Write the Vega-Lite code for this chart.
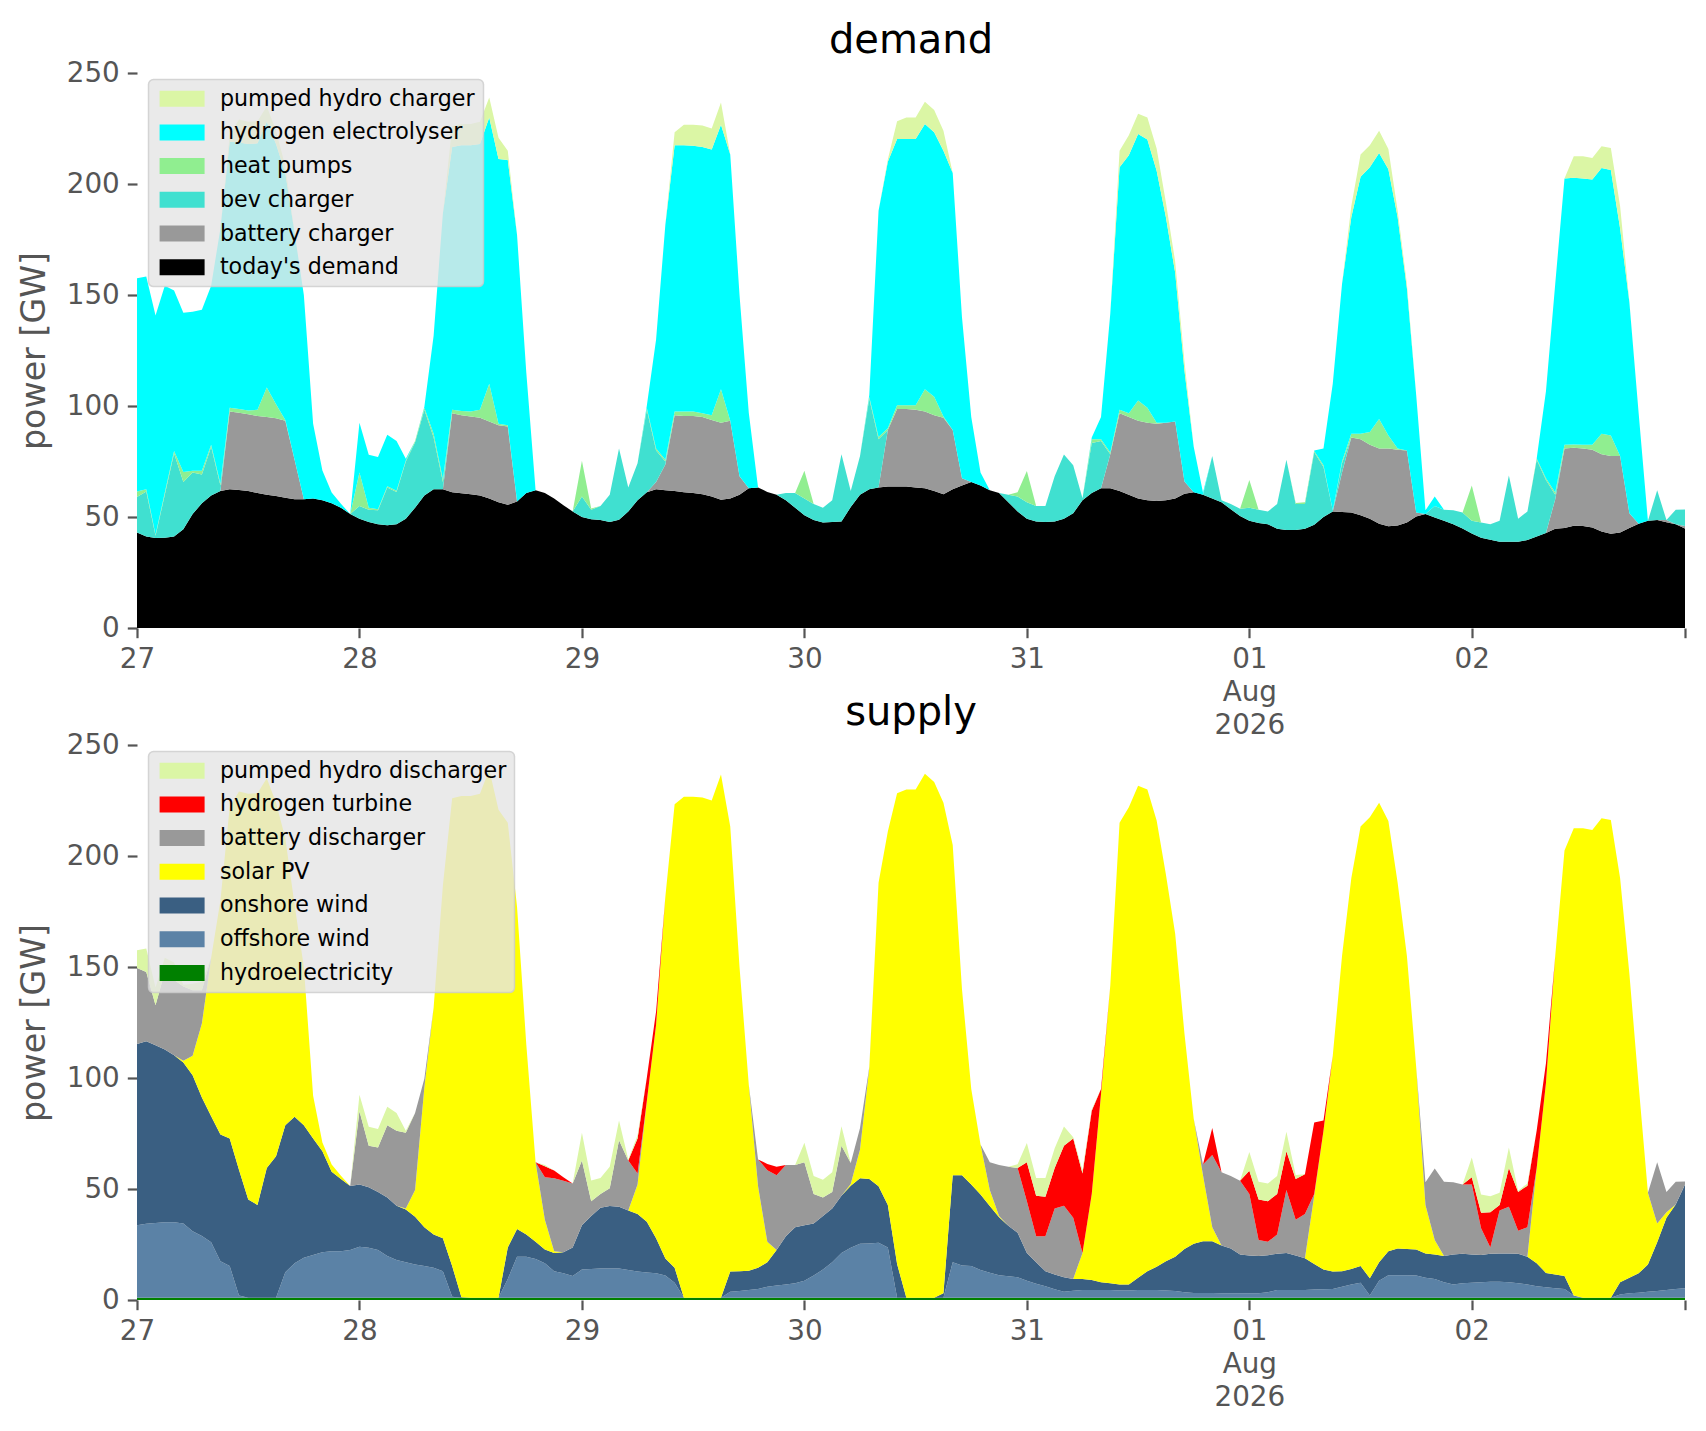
{
"$schema": "https://vega.github.io/schema/vega-lite/v6.json",
"background": "white",
"padding": {"left": 17, "top": 21, "right": 10, "bottom": 10},
"config": {
 "view": {"stroke": null},
 "font": "DejaVu Sans",
 "axis": {"grid": false, "domain": false, "labelFont": "DejaVu Sans", "labelFontSize": 27.8, "labelColor": "#555555", "tickColor": "#555555", "tickSize": 9.7, "tickWidth": 2.2, "labelPadding": 8, "titleFont": "DejaVu Sans", "titleFontSize": 33.3, "titleFontWeight": "normal", "titleColor": "#555555"},
 "title": {"font": "DejaVu Sans", "fontSize": 40, "fontWeight": "normal", "color": "#000000", "anchor": "middle", "offset": -2, "baseline": "alphabetic"},
 "legend": {"orient": "none", "legendX": 11.5, "legendY": 6.6, "fillColor": "rgba(229,229,229,0.8)", "strokeColor": "rgba(204,204,204,0.8)", "strokeWidth": 1.5, "cornerRadius": 5, "padding": 8, "labelFont": "DejaVu Sans", "labelFontSize": 22.2, "labelColor": "#000000", "labelOffset": 41.2, "symbolType": "M-1,-1L4.625,-1L4.625,1L-1,1Z", "symbolSize": 256, "symbolStrokeWidth": 0, "symbolOpacity": 1, "rowPadding": 10.7, "labelLimit": 0}
},
"datasets": {
"keys": [
 {"k":"dm","n":"today's demand","o":0},{"k":"bc","n":"battery charger","o":1},{"k":"ev","n":"bev charger","o":2},{"k":"hp","n":"heat pumps","o":3},{"k":"el","n":"hydrogen electrolyser","o":4},{"k":"pc","n":"pumped hydro charger","o":5},
 {"k":"hy","n":"hydroelectricity","o":0},{"k":"of","n":"offshore wind","o":1},{"k":"on","n":"onshore wind","o":2},{"k":"pv","n":"solar PV","o":3},{"k":"bd","n":"battery discharger","o":4},{"k":"ht","n":"hydrogen turbine","o":5},{"k":"pd","n":"pumped hydro discharger","o":6}
],
"d": [
{"t":"2026-07-27T00:00Z","dm":43,"bc":0,"ev":16,"hp":2.5,"el":96,"pc":0,"hy":1,"of":32.7,"on":81.6,"pv":0,"bd":34.2,"ht":0,"pd":8},
{"t":"2026-07-27T01:00Z","dm":41.2,"bc":0,"ev":20.3,"hp":1,"el":95.8,"pc":0,"hy":1,"of":33.3,"on":82.2,"pv":0,"bd":31.3,"ht":0,"pd":10.5},
{"t":"2026-07-27T02:00Z","dm":40.5,"bc":0,"ev":1,"hp":0.5,"el":98.8,"pc":0,"hy":1,"of":33.7,"on":80.1,"pv":0,"bd":18,"ht":0,"pd":8},
{"t":"2026-07-27T03:00Z","dm":40.7,"bc":0,"ev":19.3,"hp":1,"el":93.2,"pc":0,"hy":1,"of":34,"on":77.8,"pv":0,"bd":35,"ht":0,"pd":6.4},
{"t":"2026-07-27T04:00Z","dm":41.2,"bc":0,"ev":37.5,"hp":1,"el":72.3,"pc":0,"hy":1,"of":34,"on":75.3,"pv":0,"bd":33.9,"ht":0,"pd":7.8},
{"t":"2026-07-27T05:00Z","dm":44.5,"bc":0,"ev":21.3,"hp":4.5,"el":71.7,"pc":0,"hy":1,"of":33.5,"on":72.5,"pv":0.8,"bd":33.4,"ht":0,"pd":0.8},
{"t":"2026-07-27T06:00Z","dm":51.3,"bc":0,"ev":18.7,"hp":0.8,"el":71.7,"pc":0,"hy":1,"of":30,"on":70.2,"pv":8.8,"bd":29.5,"ht":0,"pd":3},
{"t":"2026-07-27T07:00Z","dm":56.2,"bc":0,"ev":13,"hp":1.6,"el":72.5,"pc":0,"hy":1,"of":27.8,"on":62.4,"pv":33.3,"bd":15,"ht":0,"pd":3.8},
{"t":"2026-07-27T08:00Z","dm":59.7,"bc":0,"ev":22,"hp":0.8,"el":71.7,"pc":0,"hy":1,"of":25,"on":56.8,"pv":71.4,"bd":0,"ht":0,"pd":0},
{"t":"2026-07-27T09:00Z","dm":61.7,"bc":0,"ev":2.5,"hp":0.8,"el":115,"pc":0,"hy":1,"of":16.5,"on":57,"pv":105.5,"bd":0,"ht":0,"pd":0},
{"t":"2026-07-27T10:00Z","dm":62.5,"bc":35,"ev":0,"hp":1.7,"el":119.8,"pc":3,"hy":1,"of":14.3,"on":57.5,"pv":149.2,"bd":0,"ht":0,"pd":0},
{"t":"2026-07-27T11:00Z","dm":62.2,"bc":34.8,"ev":0,"hp":1.7,"el":120,"pc":10.3,"hy":1,"of":1,"on":56.7,"pv":170.3,"bd":0,"ht":0,"pd":0},
{"t":"2026-07-27T12:00Z","dm":61.7,"bc":34.6,"ev":0,"hp":1.7,"el":120,"pc":10,"hy":1,"of":0,"on":44.3,"pv":182.7,"bd":0,"ht":0,"pd":0},
{"t":"2026-07-27T13:00Z","dm":60.8,"bc":34.7,"ev":0,"hp":2.8,"el":120,"pc":10,"hy":1,"of":0,"on":41.8,"pv":185.5,"bd":0,"ht":0,"pd":0},
{"t":"2026-07-27T14:00Z","dm":60,"bc":35,"ev":0,"hp":13.3,"el":119.7,"pc":7,"hy":1,"of":0,"on":58.5,"pv":175.5,"bd":0,"ht":0,"pd":0},
{"t":"2026-07-27T15:00Z","dm":59.5,"bc":35,"ev":0,"hp":6.3,"el":117.2,"pc":6,"hy":1,"of":0,"on":63.8,"pv":159.2,"bd":0,"ht":0,"pd":0},
{"t":"2026-07-27T16:00Z","dm":58.7,"bc":34.6,"ev":0,"hp":0.4,"el":111.3,"pc":3,"hy":1,"of":11.5,"on":66.2,"pv":129.3,"bd":0,"ht":0,"pd":0},
{"t":"2026-07-27T17:00Z","dm":58,"bc":17.8,"ev":0,"hp":0,"el":102.2,"pc":0,"hy":1,"of":15.5,"on":66,"pv":95.5,"bd":0,"ht":0,"pd":0},
{"t":"2026-07-27T18:00Z","dm":58,"bc":0,"ev":0,"hp":0,"el":92,"pc":0,"hy":1,"of":18,"on":59.7,"pv":71.3,"bd":0,"ht":0,"pd":0},
{"t":"2026-07-27T19:00Z","dm":58.3,"bc":0,"ev":0,"hp":0,"el":33.7,"pc":0,"hy":1,"of":19.3,"on":52.5,"pv":19.2,"bd":0,"ht":0,"pd":0},
{"t":"2026-07-27T20:00Z","dm":57.5,"bc":0,"ev":0,"hp":0,"el":13.5,"pc":0,"hy":1,"of":20.5,"on":45.5,"pv":4,"bd":0,"ht":0,"pd":0},
{"t":"2026-07-27T21:00Z","dm":56.2,"bc":0,"ev":0,"hp":0,"el":4.8,"pc":0,"hy":1,"of":21,"on":35.8,"pv":3.2,"bd":0,"ht":0,"pd":0},
{"t":"2026-07-27T22:00Z","dm":54.2,"bc":0,"ev":0,"hp":0,"el":1.8,"pc":0,"hy":1,"of":21,"on":32.5,"pv":1.5,"bd":0,"ht":0,"pd":0},
{"t":"2026-07-27T23:00Z","dm":51.3,"bc":0,"ev":0,"hp":0,"el":0,"pc":0,"hy":1,"of":21.5,"on":28.8,"pv":0,"bd":0,"ht":0,"pd":0},
{"t":"2026-07-28T00:00Z","dm":49.2,"bc":0,"ev":5.8,"hp":15,"el":22.5,"pc":0,"hy":1,"of":23,"on":28,"pv":0,"bd":33,"ht":0,"pd":7.5},
{"t":"2026-07-28T01:00Z","dm":47.8,"bc":0,"ev":5.5,"hp":0.9,"el":23.8,"pc":0,"hy":1,"of":22.5,"on":27.3,"pv":0,"bd":18.7,"ht":0,"pd":8.5},
{"t":"2026-07-28T02:00Z","dm":46.7,"bc":0,"ev":6.3,"hp":0.5,"el":23.5,"pc":0,"hy":1,"of":21.5,"on":26.2,"pv":0,"bd":20,"ht":0,"pd":8.3},
{"t":"2026-07-28T03:00Z","dm":46.3,"bc":0,"ev":17,"hp":0.5,"el":23.2,"pc":0,"hy":1,"of":18.8,"on":26.4,"pv":0,"bd":32.5,"ht":0,"pd":8.3},
{"t":"2026-07-28T04:00Z","dm":46.7,"bc":0,"ev":14.6,"hp":0.5,"el":22.4,"pc":0,"hy":1,"of":17,"on":24.5,"pv":0,"bd":33.7,"ht":0,"pd":8},
{"t":"2026-07-28T05:00Z","dm":49.2,"bc":0,"ev":25.8,"hp":0.5,"el":0.7,"pc":0,"hy":1,"of":16,"on":23.8,"pv":0.4,"bd":34.1,"ht":0,"pd":0.9},
{"t":"2026-07-28T06:00Z","dm":54.2,"bc":0,"ev":29.5,"hp":0.5,"el":0,"pc":0,"hy":1,"of":15,"on":21.5,"pv":12,"bd":34.7,"ht":0,"pd":0},
{"t":"2026-07-28T07:00Z","dm":59.7,"bc":0,"ev":38.6,"hp":0.9,"el":0.5,"pc":0,"hy":1,"of":14.3,"on":17.5,"pv":62.9,"bd":4,"ht":0,"pd":0},
{"t":"2026-07-28T08:00Z","dm":62.5,"bc":0,"ev":23.3,"hp":1.7,"el":44.2,"pc":0,"hy":1,"of":13.5,"on":15,"pv":102.2,"bd":0,"ht":0,"pd":0},
{"t":"2026-07-28T09:00Z","dm":62.5,"bc":0,"ev":3.3,"hp":1.2,"el":119.7,"pc":0,"hy":1,"of":12,"on":14.8,"pv":158.9,"bd":0,"ht":0,"pd":0},
{"t":"2026-07-28T10:00Z","dm":61.2,"bc":35.5,"ev":0,"hp":1.6,"el":118.4,"pc":9.3,"hy":1,"of":0.5,"on":13.8,"pv":210.7,"bd":0,"ht":0,"pd":0},
{"t":"2026-07-28T11:00Z","dm":60.7,"bc":35.1,"ev":0,"hp":2,"el":119.7,"pc":9.5,"hy":1,"of":0,"on":0.2,"pv":225.8,"bd":0,"ht":0,"pd":0},
{"t":"2026-07-28T12:00Z","dm":60.3,"bc":35,"ev":0,"hp":2.2,"el":120,"pc":9.5,"hy":1,"of":0,"on":0,"pv":226,"bd":0,"ht":0,"pd":0},
{"t":"2026-07-28T13:00Z","dm":59.7,"bc":35,"ev":0,"hp":3.6,"el":119.7,"pc":10,"hy":1,"of":0,"on":0,"pv":227,"bd":0,"ht":0,"pd":0},
{"t":"2026-07-28T14:00Z","dm":58.3,"bc":34.7,"ev":0,"hp":17,"el":120,"pc":9,"hy":1,"of":0,"on":0,"pv":238,"bd":0,"ht":0,"pd":0},
{"t":"2026-07-28T15:00Z","dm":56.7,"bc":34.6,"ev":0,"hp":0.7,"el":119.3,"pc":9.5,"hy":1,"of":0,"on":0,"pv":219.8,"bd":0,"ht":0,"pd":0},
{"t":"2026-07-28T16:00Z","dm":55.5,"bc":35.3,"ev":0,"hp":0.5,"el":119.5,"pc":4.2,"hy":1,"of":8.5,"on":14.2,"pv":191.3,"bd":0,"ht":0,"pd":0},
{"t":"2026-07-28T17:00Z","dm":57,"bc":0,"ev":0,"hp":0,"el":120,"pc":0,"hy":1,"of":18.5,"on":12.5,"pv":145,"bd":0,"ht":0,"pd":0},
{"t":"2026-07-28T18:00Z","dm":60.8,"bc":0,"ev":0,"hp":0,"el":54.2,"pc":0,"hy":1,"of":18.5,"on":10,"pv":85.5,"bd":0,"ht":0,"pd":0},
{"t":"2026-07-28T19:00Z","dm":62,"bc":0,"ev":0,"hp":0,"el":0,"pc":0,"hy":1,"of":17.5,"on":7.7,"pv":35.8,"bd":0,"ht":0,"pd":0},
{"t":"2026-07-28T20:00Z","dm":60.8,"bc":0,"ev":0,"hp":0,"el":0,"pc":0,"hy":1,"of":15.5,"on":6.3,"pv":13.4,"bd":19.1,"ht":5,"pd":0.5},
{"t":"2026-07-28T21:00Z","dm":58.3,"bc":0,"ev":0,"hp":0,"el":0,"pc":0,"hy":1,"of":12,"on":8.2,"pv":0.8,"bd":32.8,"ht":3.5,"pd":0},
{"t":"2026-07-28T22:00Z","dm":55.3,"bc":0,"ev":0,"hp":0,"el":0,"pc":0,"hy":1,"of":11,"on":9.5,"pv":0,"bd":32.2,"ht":1.6,"pd":0},
{"t":"2026-07-28T23:00Z","dm":52.5,"bc":0,"ev":0,"hp":0,"el":0,"pc":0,"hy":1,"of":9.8,"on":12.9,"pv":0,"bd":28.8,"ht":0,"pd":0},
{"t":"2026-07-29T00:00Z","dm":50,"bc":0,"ev":9.2,"hp":16.1,"el":0,"pc":0,"hy":1,"of":12.7,"on":20,"pv":0,"bd":29.1,"ht":0,"pd":12.5},
{"t":"2026-07-29T01:00Z","dm":49,"bc":0,"ev":4.3,"hp":0.5,"el":0,"pc":0,"hy":1,"of":13,"on":23.8,"pv":0,"bd":6.7,"ht":0,"pd":9.3},
{"t":"2026-07-29T02:00Z","dm":48.7,"bc":0,"ev":6.3,"hp":0,"el":0,"pc":0,"hy":1,"of":13.2,"on":27.3,"pv":0,"bd":6.3,"ht":0,"pd":7.2},
{"t":"2026-07-29T03:00Z","dm":47.8,"bc":0,"ev":12.2,"hp":0,"el":0,"pc":0,"hy":1,"of":13.2,"on":28.1,"pv":0,"bd":8,"ht":0,"pd":9.7},
{"t":"2026-07-29T04:00Z","dm":48.8,"bc":0,"ev":32,"hp":0,"el":0,"pc":0,"hy":1,"of":13.2,"on":27.8,"pv":0,"bd":30,"ht":0,"pd":8.8},
{"t":"2026-07-29T05:00Z","dm":52.5,"bc":0,"ev":10.8,"hp":0,"el":0,"pc":0,"hy":1,"of":12.5,"on":26.8,"pv":0,"bd":22.5,"ht":0,"pd":0.5},
{"t":"2026-07-29T06:00Z","dm":57.5,"bc":0,"ev":16.7,"hp":0,"el":0,"pc":0,"hy":1,"of":11.8,"on":25.9,"pv":13.3,"bd":5,"ht":15.8,"pd":1.4},
{"t":"2026-07-29T07:00Z","dm":61.2,"bc":0,"ev":37.1,"hp":0.8,"el":1,"pc":0,"hy":1,"of":11.4,"on":22.9,"pv":54.2,"bd":0,"ht":10.6,"pd":0},
{"t":"2026-07-29T08:00Z","dm":62.5,"bc":3.3,"ev":14.2,"hp":0.8,"el":49.2,"pc":0,"hy":1,"of":11,"on":15.8,"pv":96.2,"bd":0,"ht":6,"pd":0},
{"t":"2026-07-29T09:00Z","dm":62,"bc":11.7,"ev":1.3,"hp":0.8,"el":105.9,"pc":0,"hy":1,"of":10,"on":7.7,"pv":163,"bd":0,"ht":0,"pd":0},
{"t":"2026-07-29T10:00Z","dm":61.7,"bc":34.1,"ev":0,"hp":1.7,"el":120,"pc":5.8,"hy":1,"of":6.8,"on":6.7,"pv":208.8,"bd":0,"ht":0,"pd":0},
{"t":"2026-07-29T11:00Z","dm":61.2,"bc":34.3,"ev":0,"hp":2,"el":120,"pc":9.2,"hy":1,"of":0,"on":0,"pv":225.7,"bd":0,"ht":0,"pd":0},
{"t":"2026-07-29T12:00Z","dm":60.8,"bc":34.7,"ev":0,"hp":2,"el":119.7,"pc":9.5,"hy":1,"of":0,"on":0,"pv":225.7,"bd":0,"ht":0,"pd":0},
{"t":"2026-07-29T13:00Z","dm":60.3,"bc":34.7,"ev":0,"hp":1.7,"el":120,"pc":9.6,"hy":1,"of":0,"on":0,"pv":225.3,"bd":0,"ht":0,"pd":0},
{"t":"2026-07-29T14:00Z","dm":59.2,"bc":34.5,"ev":0,"hp":2.1,"el":119.7,"pc":9.5,"hy":1,"of":0,"on":0,"pv":224,"bd":0,"ht":0,"pd":0},
{"t":"2026-07-29T15:00Z","dm":57.8,"bc":34.7,"ev":0,"hp":15,"el":119.2,"pc":10,"hy":1,"of":0,"on":0,"pv":235.7,"bd":0,"ht":0,"pd":0},
{"t":"2026-07-29T16:00Z","dm":58.3,"bc":35,"ev":0,"hp":0,"el":120,"pc":0,"hy":1,"of":2.7,"on":9.1,"pv":200.5,"bd":0,"ht":0,"pd":0},
{"t":"2026-07-29T17:00Z","dm":60,"bc":8.3,"ev":0,"hp":0,"el":81.7,"pc":0,"hy":1,"of":3,"on":9,"pv":137,"bd":0,"ht":0,"pd":0},
{"t":"2026-07-29T18:00Z","dm":63,"bc":0,"ev":0,"hp":0,"el":34,"pc":0,"hy":1,"of":3.5,"on":8.7,"pv":83.8,"bd":0,"ht":0,"pd":0},
{"t":"2026-07-29T19:00Z","dm":63.3,"bc":0,"ev":0,"hp":0,"el":0,"pc":0,"hy":1,"of":4,"on":9.5,"pv":36.7,"bd":12.1,"ht":0,"pd":0},
{"t":"2026-07-29T20:00Z","dm":61.3,"bc":0,"ev":0,"hp":0,"el":0,"pc":0,"hy":1,"of":5,"on":11,"pv":9.2,"bd":32.3,"ht":2.8,"pd":0},
{"t":"2026-07-29T21:00Z","dm":60,"bc":0,"ev":0,"hp":0,"el":0,"pc":0,"hy":1,"of":5.5,"on":16,"pv":0,"bd":33.7,"ht":3.8,"pd":0},
{"t":"2026-07-29T22:00Z","dm":57.5,"bc":0,"ev":3.3,"hp":0,"el":0,"pc":0,"hy":1,"of":6,"on":21.7,"pv":0,"bd":32.1,"ht":0,"pd":0},
{"t":"2026-07-29T23:00Z","dm":54.2,"bc":0,"ev":6.6,"hp":0,"el":0,"pc":0,"hy":1,"of":6.5,"on":25.3,"pv":0,"bd":28,"ht":0,"pd":0},
{"t":"2026-07-30T00:00Z","dm":50.8,"bc":0,"ev":7.5,"hp":12.5,"el":0,"pc":0,"hy":1,"of":7.7,"on":25,"pv":0,"bd":28.3,"ht":0,"pd":8.8},
{"t":"2026-07-30T01:00Z","dm":48.7,"bc":0,"ev":7.1,"hp":0,"el":0,"pc":0,"hy":1,"of":10,"on":23.5,"pv":0,"bd":13.3,"ht":0,"pd":8},
{"t":"2026-07-30T02:00Z","dm":47.5,"bc":0,"ev":6.7,"hp":0,"el":0,"pc":0,"hy":1,"of":12.7,"on":24.1,"pv":0,"bd":8.4,"ht":0,"pd":8},
{"t":"2026-07-30T03:00Z","dm":47.8,"bc":0,"ev":9.7,"hp":0,"el":0,"pc":0,"hy":1,"of":16,"on":24.2,"pv":0,"bd":7.5,"ht":0,"pd":8.8},
{"t":"2026-07-30T04:00Z","dm":48,"bc":0,"ev":30.3,"hp":0,"el":0,"pc":0,"hy":1,"of":20.2,"on":25.8,"pv":0,"bd":22.5,"ht":0,"pd":8.8},
{"t":"2026-07-30T05:00Z","dm":54.5,"bc":0,"ev":7.2,"hp":0,"el":0,"pc":0,"hy":1,"of":22.5,"on":28,"pv":0.8,"bd":9.4,"ht":0,"pd":0},
{"t":"2026-07-30T06:00Z","dm":60,"bc":0,"ev":17.5,"hp":0,"el":0,"pc":0,"hy":1,"of":24.3,"on":29.5,"pv":13,"bd":9.7,"ht":0,"pd":0},
{"t":"2026-07-30T07:00Z","dm":62.5,"bc":0,"ev":40.8,"hp":0.8,"el":0.9,"pc":0,"hy":1,"of":24.5,"on":29,"pv":50,"bd":0.5,"ht":0,"pd":0},
{"t":"2026-07-30T08:00Z","dm":63.3,"bc":0,"ev":21.7,"hp":1,"el":102,"pc":0,"hy":1,"of":24.8,"on":25.4,"pv":136.8,"bd":0,"ht":0,"pd":0},
{"t":"2026-07-30T09:00Z","dm":63.7,"bc":25.5,"ev":0,"hp":0.8,"el":120,"pc":1,"hy":1,"of":22.7,"on":19.1,"pv":168.2,"bd":0,"ht":0,"pd":0},
{"t":"2026-07-30T10:00Z","dm":63.7,"bc":35,"ev":0,"hp":1.6,"el":120,"pc":8,"hy":1,"of":0,"on":15.2,"pv":212.1,"bd":0,"ht":0,"pd":0},
{"t":"2026-07-30T11:00Z","dm":63.7,"bc":35,"ev":0,"hp":1.6,"el":120,"pc":9.7,"hy":1,"of":0,"on":0,"pv":229,"bd":0,"ht":0,"pd":0},
{"t":"2026-07-30T12:00Z","dm":63.3,"bc":35,"ev":0,"hp":2,"el":120,"pc":9.7,"hy":1,"of":0,"on":0,"pv":229,"bd":0,"ht":0,"pd":0},
{"t":"2026-07-30T13:00Z","dm":63,"bc":34.5,"ev":0,"hp":10,"el":119.5,"pc":10,"hy":1,"of":0,"on":0,"pv":236,"bd":0,"ht":0,"pd":0},
{"t":"2026-07-30T14:00Z","dm":61.7,"bc":34.1,"ev":0,"hp":8.4,"el":119.1,"pc":10,"hy":1,"of":0,"on":0,"pv":232.3,"bd":0,"ht":0,"pd":0},
{"t":"2026-07-30T15:00Z","dm":60.3,"bc":34.4,"ev":0,"hp":0.6,"el":119.7,"pc":9,"hy":1,"of":0,"on":2,"pv":221,"bd":0,"ht":0,"pd":0},
{"t":"2026-07-30T16:00Z","dm":62.5,"bc":26.7,"ev":0,"hp":0,"el":115.8,"pc":0,"hy":1,"of":16,"on":39.2,"pv":148.8,"bd":0,"ht":0,"pd":0},
{"t":"2026-07-30T17:00Z","dm":64.2,"bc":3.3,"ev":0,"hp":0,"el":72.5,"pc":0,"hy":1,"of":14.5,"on":40.7,"pv":83.8,"bd":0,"ht":0,"pd":0},
{"t":"2026-07-30T18:00Z","dm":65.8,"bc":0,"ev":0,"hp":0,"el":29.2,"pc":0,"hy":1,"of":14.3,"on":36.7,"pv":43,"bd":0,"ht":0,"pd":0},
{"t":"2026-07-30T19:00Z","dm":64.2,"bc":0,"ev":0,"hp":0,"el":5.8,"pc":0,"hy":1,"of":12.5,"on":34,"pv":22.5,"bd":0,"ht":0,"pd":0},
{"t":"2026-07-30T20:00Z","dm":62,"bc":0,"ev":0,"hp":0,"el":0,"pc":0,"hy":1,"of":11.3,"on":30,"pv":7.2,"bd":12.5,"ht":0,"pd":0},
{"t":"2026-07-30T21:00Z","dm":60.8,"bc":0,"ev":0,"hp":0,"el":0,"pc":0,"hy":1,"of":10.2,"on":26.1,"pv":0.5,"bd":23,"ht":0,"pd":0},
{"t":"2026-07-30T22:00Z","dm":56.7,"bc":0,"ev":3.3,"hp":0,"el":0,"pc":0,"hy":1,"of":9.7,"on":22.8,"pv":0,"bd":26.5,"ht":0,"pd":0},
{"t":"2026-07-30T23:00Z","dm":52.5,"bc":0,"ev":6.7,"hp":2,"el":0,"pc":0,"hy":1,"of":9.3,"on":20,"pv":0,"bd":29.2,"ht":0,"pd":1.7},
{"t":"2026-07-31T00:00Z","dm":49.2,"bc":0,"ev":7.5,"hp":14,"el":0,"pc":0,"hy":1,"of":7.7,"on":12.5,"pv":0,"bd":23.3,"ht":17.5,"pd":8.7},
{"t":"2026-07-31T01:00Z","dm":48,"bc":0,"ev":7,"hp":0,"el":0,"pc":0,"hy":1,"of":6.3,"on":9.7,"pv":0,"bd":11.7,"ht":18.3,"pd":8},
{"t":"2026-07-31T02:00Z","dm":47.7,"bc":0,"ev":7.3,"hp":0,"el":0,"pc":0,"hy":1,"of":5.2,"on":6.8,"pv":0,"bd":15.7,"ht":17.8,"pd":8.5},
{"t":"2026-07-31T03:00Z","dm":48,"bc":0,"ev":20.3,"hp":0,"el":0,"pc":0,"hy":1,"of":3.8,"on":6.7,"pv":0,"bd":29.7,"ht":18.3,"pd":8.8},
{"t":"2026-07-31T04:00Z","dm":49.2,"bc":0,"ev":29,"hp":0,"el":0,"pc":0,"hy":1,"of":2.7,"on":6.6,"pv":0,"bd":32.2,"ht":27,"pd":8.7},
{"t":"2026-07-31T05:00Z","dm":51.7,"bc":0,"ev":21.6,"hp":0,"el":0,"pc":0,"hy":1,"of":3.2,"on":5.3,"pv":0,"bd":27.5,"ht":35.8,"pd":0.5},
{"t":"2026-07-31T06:00Z","dm":57.5,"bc":0,"ev":1,"hp":0,"el":0,"pc":0,"hy":1,"of":3.5,"on":5,"pv":11.7,"bd":0,"ht":35.8,"pd":1.5},
{"t":"2026-07-31T07:00Z","dm":60.8,"bc":0,"ev":22.5,"hp":1.7,"el":0.8,"pc":0,"hy":1,"of":3.5,"on":4.5,"pv":38.8,"bd":0,"ht":37.5,"pd":0.5},
{"t":"2026-07-31T08:00Z","dm":63,"bc":0,"ev":21.2,"hp":0.8,"el":10,"pc":0,"hy":1,"of":3.5,"on":3.5,"pv":84.8,"bd":0,"ht":2.2,"pd":0},
{"t":"2026-07-31T09:00Z","dm":63,"bc":15.3,"ev":0,"hp":0.8,"el":62.6,"pc":0,"hy":1,"of":3.5,"on":3,"pv":134.2,"bd":0,"ht":0,"pd":0},
{"t":"2026-07-31T10:00Z","dm":61.7,"bc":35,"ev":0,"hp":1.6,"el":109.2,"pc":7.5,"hy":1,"of":3.3,"on":2.7,"pv":208,"bd":0,"ht":0,"pd":0},
{"t":"2026-07-31T11:00Z","dm":60,"bc":35,"ev":0,"hp":1.7,"el":116.3,"pc":9,"hy":1,"of":3.3,"on":2.7,"pv":215,"bd":0,"ht":0,"pd":0},
{"t":"2026-07-31T12:00Z","dm":58.3,"bc":35,"ev":0,"hp":9.2,"el":120,"pc":9.2,"hy":1,"of":3.5,"on":5.5,"pv":221.7,"bd":0,"ht":0,"pd":0},
{"t":"2026-07-31T13:00Z","dm":57.5,"bc":35,"ev":0,"hp":6.7,"el":120.8,"pc":10,"hy":1,"of":3.5,"on":8.5,"pv":217,"bd":0,"ht":0,"pd":0},
{"t":"2026-07-31T14:00Z","dm":57.2,"bc":34.8,"ev":0,"hp":0.5,"el":113.5,"pc":10,"hy":1,"of":3.5,"on":10.5,"pv":201,"bd":0,"ht":0,"pd":0},
{"t":"2026-07-31T15:00Z","dm":57.5,"bc":35,"ev":0,"hp":0,"el":92.5,"pc":6.7,"hy":1,"of":3.3,"on":13.2,"pv":174.2,"bd":0,"ht":0,"pd":0},
{"t":"2026-07-31T16:00Z","dm":58.3,"bc":34.7,"ev":0,"hp":0,"el":67,"pc":5,"hy":1,"of":3,"on":15.5,"pv":145.5,"bd":0,"ht":0,"pd":0},
{"t":"2026-07-31T17:00Z","dm":60.5,"bc":5.5,"ev":0,"hp":0,"el":50,"pc":4,"hy":1,"of":2.5,"on":19.5,"pv":97,"bd":0,"ht":0,"pd":0},
{"t":"2026-07-31T18:00Z","dm":61.2,"bc":0,"ev":0,"hp":0,"el":20.5,"pc":0,"hy":1,"of":2.2,"on":22.1,"pv":56.4,"bd":0,"ht":0,"pd":0},
{"t":"2026-07-31T19:00Z","dm":60,"bc":0,"ev":0,"hp":0,"el":1,"pc":0,"hy":1,"of":2.2,"on":23.3,"pv":29.7,"bd":4.8,"ht":0,"pd":0},
{"t":"2026-07-31T20:00Z","dm":58.3,"bc":0,"ev":19.2,"hp":0,"el":0,"pc":0,"hy":1,"of":2.2,"on":23.3,"pv":6.3,"bd":32.5,"ht":12.2,"pd":0},
{"t":"2026-07-31T21:00Z","dm":56.7,"bc":0,"ev":0.8,"hp":0,"el":0,"pc":0,"hy":1,"of":2,"on":21.5,"pv":0,"bd":33,"ht":0,"pd":0},
{"t":"2026-07-31T22:00Z","dm":53.5,"bc":0,"ev":2.3,"hp":0,"el":0,"pc":0,"hy":1,"of":2,"on":20.2,"pv":0,"bd":32.6,"ht":0,"pd":0},
{"t":"2026-07-31T23:00Z","dm":50.5,"bc":0,"ev":3.2,"hp":0,"el":0,"pc":0,"hy":1,"of":2,"on":17.5,"pv":0,"bd":33.2,"ht":0,"pd":0},
{"t":"2026-08-01T00:00Z","dm":48.3,"bc":0,"ev":5.9,"hp":12.5,"el":0,"pc":0,"hy":1,"of":2,"on":17,"pv":0,"bd":27.8,"ht":10.4,"pd":8.5},
{"t":"2026-08-01T01:00Z","dm":47.3,"bc":0,"ev":6,"hp":0,"el":0,"pc":0,"hy":1,"of":2,"on":16.8,"pv":0,"bd":7.2,"ht":18.3,"pd":8},
{"t":"2026-08-01T02:00Z","dm":46.7,"bc":0,"ev":5.8,"hp":0,"el":0,"pc":0,"hy":1,"of":2.5,"on":16.7,"pv":0,"bd":6,"ht":18.3,"pd":8},
{"t":"2026-08-01T03:00Z","dm":44.7,"bc":0,"ev":11.1,"hp":0,"el":0,"pc":0,"hy":1,"of":3.5,"on":16.3,"pv":0,"bd":8.7,"ht":18.3,"pd":8},
{"t":"2026-08-01T04:00Z","dm":44.2,"bc":0,"ev":31.6,"hp":0,"el":0,"pc":0,"hy":1,"of":3.5,"on":16.7,"pv":0,"bd":28.3,"ht":17.5,"pd":8.8},
{"t":"2026-08-01T05:00Z","dm":44.2,"bc":0,"ev":11.6,"hp":0.5,"el":0,"pc":0,"hy":1,"of":3.5,"on":15.5,"pv":0,"bd":16.2,"ht":18.3,"pd":1.8},
{"t":"2026-08-01T06:00Z","dm":44.7,"bc":0,"ev":11.1,"hp":0.9,"el":0,"pc":0,"hy":1,"of":3.5,"on":14.3,"pv":0,"bd":19.9,"ht":18,"pd":0},
{"t":"2026-08-01T07:00Z","dm":46.5,"bc":0,"ev":32.7,"hp":0.5,"el":0.3,"pc":0,"hy":1,"of":3.7,"on":11.5,"pv":30.8,"bd":0.8,"ht":32.2,"pd":0},
{"t":"2026-08-01T08:00Z","dm":50,"bc":0,"ev":22.5,"hp":0.8,"el":7.5,"pc":0,"hy":1,"of":3.8,"on":8.9,"pv":62.5,"bd":0,"ht":4.6,"pd":0},
{"t":"2026-08-01T09:00Z","dm":52.5,"bc":0,"ev":0.5,"hp":0,"el":57,"pc":0,"hy":1,"of":4,"on":7.8,"pv":97.2,"bd":0,"ht":0,"pd":0},
{"t":"2026-08-01T10:00Z","dm":52.2,"bc":17.8,"ev":4.2,"hp":0.8,"el":80,"pc":0,"hy":1,"of":5,"on":7,"pv":142,"bd":0,"ht":0,"pd":0},
{"t":"2026-08-01T11:00Z","dm":52,"bc":33.8,"ev":0,"hp":1.7,"el":97.5,"pc":5,"hy":1,"of":6,"on":7,"pv":176,"bd":0,"ht":0,"pd":0},
{"t":"2026-08-01T12:00Z","dm":50.8,"bc":34.2,"ev":0,"hp":2.5,"el":115.8,"pc":10,"hy":1,"of":6.8,"on":7.5,"pv":198,"bd":0,"ht":0,"pd":0},
{"t":"2026-08-01T13:00Z","dm":49.2,"bc":33.3,"ev":0,"hp":5.8,"el":119.2,"pc":10,"hy":1,"of":1,"on":7.8,"pv":207.7,"bd":0,"ht":0,"pd":0},
{"t":"2026-08-01T14:00Z","dm":47,"bc":33.8,"ev":0,"hp":13.4,"el":119.8,"pc":10,"hy":1,"of":7.7,"on":8.3,"pv":207,"bd":0,"ht":0,"pd":0},
{"t":"2026-08-01T15:00Z","dm":45.8,"bc":35,"ev":0,"hp":5.9,"el":120,"pc":9.1,"hy":1,"of":10.2,"on":10.8,"pv":193.8,"bd":0,"ht":0,"pd":0},
{"t":"2026-08-01T16:00Z","dm":46.2,"bc":34.1,"ev":0,"hp":0.5,"el":104.2,"pc":3,"hy":1,"of":10.2,"on":12,"pv":164.8,"bd":0,"ht":0,"pd":0},
{"t":"2026-08-01T17:00Z","dm":47.5,"bc":32.5,"ev":0,"hp":0,"el":73,"pc":2,"hy":1,"of":10.2,"on":11.8,"pv":132,"bd":0,"ht":0,"pd":0},
{"t":"2026-08-01T18:00Z","dm":50.2,"bc":1.8,"ev":0,"hp":0,"el":53,"pc":0,"hy":1,"of":10,"on":11.8,"pv":82.2,"bd":0,"ht":0,"pd":0},
{"t":"2026-08-01T19:00Z","dm":51.3,"bc":0,"ev":0,"hp":0,"el":1.7,"pc":0,"hy":1,"of":9,"on":11,"pv":21.8,"bd":10.2,"ht":0,"pd":0},
{"t":"2026-08-01T20:00Z","dm":49.8,"bc":0,"ev":5.2,"hp":0,"el":4.2,"pc":0,"hy":1,"of":8.5,"on":11,"pv":6.5,"bd":32.2,"ht":0,"pd":0},
{"t":"2026-08-01T21:00Z","dm":48.3,"bc":0,"ev":5,"hp":0,"el":0,"pc":0,"hy":1,"of":7,"on":11.8,"pv":0,"bd":33.5,"ht":0,"pd":0},
{"t":"2026-08-01T22:00Z","dm":46.7,"bc":0,"ev":6.3,"hp":0,"el":0,"pc":0,"hy":1,"of":6,"on":13.5,"pv":0,"bd":32.5,"ht":0,"pd":0},
{"t":"2026-08-01T23:00Z","dm":44.8,"bc":0,"ev":7.2,"hp":0,"el":0,"pc":0,"hy":1,"of":6.5,"on":13.3,"pv":0,"bd":31.2,"ht":0,"pd":0},
{"t":"2026-08-02T00:00Z","dm":42.6,"bc":0,"ev":5.7,"hp":15.9,"el":0,"pc":0,"hy":1,"of":6.8,"on":12.7,"pv":0,"bd":31.5,"ht":3.3,"pd":8.9},
{"t":"2026-08-02T01:00Z","dm":40.6,"bc":0,"ev":6.9,"hp":0,"el":0,"pc":0,"hy":1,"of":7,"on":12.3,"pv":0,"bd":12,"ht":7,"pd":8.2},
{"t":"2026-08-02T02:00Z","dm":39.7,"bc":0,"ev":7,"hp":0,"el":0,"pc":0,"hy":1,"of":7.2,"on":12.6,"pv":0,"bd":2.9,"ht":15.8,"pd":7.2},
{"t":"2026-08-02T03:00Z","dm":38.9,"bc":0,"ev":9.4,"hp":0,"el":0,"pc":0,"hy":1,"of":7.2,"on":12.8,"pv":0,"bd":19.3,"ht":2.5,"pd":5.5},
{"t":"2026-08-02T04:00Z","dm":38.8,"bc":0,"ev":29.9,"hp":0,"el":0,"pc":0,"hy":1,"of":7,"on":13,"pv":0,"bd":21,"ht":17.5,"pd":9.2},
{"t":"2026-08-02T05:00Z","dm":38.8,"bc":0,"ev":10.4,"hp":0,"el":0,"pc":0,"hy":1,"of":6.5,"on":13.3,"pv":0,"bd":10.4,"ht":17.5,"pd":0.5},
{"t":"2026-08-02T06:00Z","dm":39.6,"bc":0,"ev":12.9,"hp":0,"el":0,"pc":0,"hy":1,"of":6,"on":12.5,"pv":0,"bd":13.3,"ht":18.7,"pd":1},
{"t":"2026-08-02T07:00Z","dm":41.2,"bc":0,"ev":34.6,"hp":0.5,"el":0,"pc":0,"hy":1,"of":5.2,"on":10.3,"pv":43,"bd":0,"ht":16.8,"pd":0},
{"t":"2026-08-02T08:00Z","dm":42.8,"bc":0,"ev":23.9,"hp":0.8,"el":39.2,"pc":0,"hy":1,"of":4.7,"on":6.5,"pv":85.6,"bd":0,"ht":8.9,"pd":0},
{"t":"2026-08-02T09:00Z","dm":44.7,"bc":13.3,"ev":2,"hp":1,"el":94,"pc":0,"hy":1,"of":4.3,"on":6.2,"pv":143.5,"bd":0,"ht":0,"pd":0},
{"t":"2026-08-02T10:00Z","dm":45,"bc":35.8,"ev":0,"hp":1.7,"el":120,"pc":0,"hy":1,"of":4,"on":5.8,"pv":191.7,"bd":0,"ht":0,"pd":0},
{"t":"2026-08-02T11:00Z","dm":46.1,"bc":35.1,"ev":0,"hp":1.5,"el":120.1,"pc":9.7,"hy":1,"of":1,"on":0,"pv":210.5,"bd":0,"ht":0,"pd":0},
{"t":"2026-08-02T12:00Z","dm":45.9,"bc":34.9,"ev":0,"hp":1.7,"el":120,"pc":10,"hy":1,"of":0,"on":0,"pv":211.5,"bd":0,"ht":0,"pd":0},
{"t":"2026-08-02T13:00Z","dm":45.3,"bc":35,"ev":0,"hp":2.2,"el":119.5,"pc":9.7,"hy":1,"of":0,"on":0,"pv":210.7,"bd":0,"ht":0,"pd":0},
{"t":"2026-08-02T14:00Z","dm":43.5,"bc":34.8,"ev":0,"hp":9.2,"el":119.7,"pc":9.8,"hy":1,"of":0,"on":0,"pv":216,"bd":0,"ht":0,"pd":0},
{"t":"2026-08-02T15:00Z","dm":42.5,"bc":35,"ev":0,"hp":9.2,"el":119.6,"pc":9.9,"hy":1,"of":0,"on":0,"pv":215.2,"bd":0,"ht":0,"pd":0},
{"t":"2026-08-02T16:00Z","dm":43,"bc":34.5,"ev":0,"hp":0,"el":102.5,"pc":10,"hy":1,"of":1.5,"on":5.5,"pv":182,"bd":0,"ht":0,"pd":0},
{"t":"2026-08-02T17:00Z","dm":45,"bc":6.7,"ev":0,"hp":0,"el":95,"pc":0.3,"hy":1,"of":2,"on":7,"pv":137,"bd":0,"ht":0,"pd":0},
{"t":"2026-08-02T18:00Z","dm":47,"bc":0,"ev":0,"hp":0,"el":49.7,"pc":0,"hy":1,"of":2.3,"on":8.7,"pv":84.7,"bd":0,"ht":0,"pd":0},
{"t":"2026-08-02T19:00Z","dm":48.3,"bc":0,"ev":0,"hp":0,"el":0,"pc":0,"hy":1,"of":2.7,"on":12.3,"pv":32.3,"bd":0,"ht":0,"pd":0},
{"t":"2026-08-02T20:00Z","dm":48.7,"bc":0,"ev":13.3,"hp":0,"el":0,"pc":0,"hy":1,"of":3,"on":22,"pv":8.5,"bd":27.5,"ht":0,"pd":0},
{"t":"2026-08-02T21:00Z","dm":47.6,"bc":1,"ev":0,"hp":0,"el":0,"pc":0,"hy":1,"of":3.5,"on":32.5,"pv":2.5,"bd":9.1,"ht":0,"pd":0},
{"t":"2026-08-02T22:00Z","dm":46.7,"bc":0,"ev":6.6,"hp":0,"el":0,"pc":0,"hy":1,"of":4,"on":38,"pv":0,"bd":10.3,"ht":0,"pd":0},
{"t":"2026-08-02T23:00Z","dm":44.8,"bc":1.1,"ev":7.5,"hp":0,"el":0,"pc":0,"hy":1,"of":4.3,"on":46.7,"pv":0,"bd":1.4,"ht":0,"pd":0}
]
},
"spacing": 117,
"bounds": "flush",
"resolve": {"scale": {"color": "independent", "x": "independent", "y": "independent"}, "legend": {"color": "independent"}},
"vconcat": [
{
 "width": 1548, "height": 555,
 "title": {"text": "demand"},
 "data": {"name": "d"},
 "transform": [
  {"fold": ["dm","bc","ev","hp","el","pc"], "as": ["k","v"]},
  {"lookup": "k", "from": {"data": {"name": "keys"}, "key": "k", "fields": ["n","o"]}}
 ],
 "mark": {"type": "area", "interpolate": "linear"},
 "encoding": {
  "x": {"field": "t", "type": "temporal", "title": null,
   "scale": {"type": "utc", "domain": [{"year":2026,"month":7,"date":27,"utc":true},{"year":2026,"month":8,"date":2,"hours":23,"utc":true}]},
   "axis": {"values": [{"year":2026,"month":7,"date":27,"utc":true},{"year":2026,"month":7,"date":28,"utc":true},{"year":2026,"month":7,"date":29,"utc":true},{"year":2026,"month":7,"date":30,"utc":true},{"year":2026,"month":7,"date":31,"utc":true},{"year":2026,"month":8,"date":1,"utc":true},{"year":2026,"month":8,"date":2,"utc":true},{"year":2026,"month":8,"date":2,"hours":23,"utc":true}],
    "labelExpr": "utcFormat(datum.value, '%H') == '23' ? '' : (utcFormat(datum.value, '%d') == '01' ? ['01', 'Aug', '2026'] : utcFormat(datum.value, '%d'))",
    "labelLineHeight": 33, "labelOverlap": false, "labelFlush": false}},
  "y": {"field": "v", "type": "quantitative", "stack": "zero",
   "scale": {"domain": [0, 250], "nice": false},
   "axis": {"values": [0,50,100,150,200,250], "title": "power [GW]", "titleX": -103, "titleY": 277.5, "titleAngle": -90, "titleAlign": "center", "titleBaseline": "middle"}},
  "color": {"field": "n", "type": "nominal", "legend": {"title": null},
   "scale": {"domain": ["pumped hydro charger","hydrogen electrolyser","heat pumps","bev charger","battery charger","today's demand"],
             "range": ["#dbf6a5","#00ffff","#90ee90","#40e0d0","#999999","#000000"]}},
  "order": {"field": "o", "type": "quantitative"}
 }
},
{
 "width": 1548, "height": 555,
 "title": {"text": "supply"},
 "data": {"name": "d"},
 "transform": [
  {"fold": ["hy","of","on","pv","bd","ht","pd"], "as": ["k","v"]},
  {"lookup": "k", "from": {"data": {"name": "keys"}, "key": "k", "fields": ["n","o"]}}
 ],
 "mark": {"type": "area", "interpolate": "linear"},
 "encoding": {
  "x": {"field": "t", "type": "temporal", "title": null,
   "scale": {"type": "utc", "domain": [{"year":2026,"month":7,"date":27,"utc":true},{"year":2026,"month":8,"date":2,"hours":23,"utc":true}]},
   "axis": {"values": [{"year":2026,"month":7,"date":27,"utc":true},{"year":2026,"month":7,"date":28,"utc":true},{"year":2026,"month":7,"date":29,"utc":true},{"year":2026,"month":7,"date":30,"utc":true},{"year":2026,"month":7,"date":31,"utc":true},{"year":2026,"month":8,"date":1,"utc":true},{"year":2026,"month":8,"date":2,"utc":true},{"year":2026,"month":8,"date":2,"hours":23,"utc":true}],
    "labelExpr": "utcFormat(datum.value, '%H') == '23' ? '' : (utcFormat(datum.value, '%d') == '01' ? ['01', 'Aug', '2026'] : utcFormat(datum.value, '%d'))",
    "labelLineHeight": 33, "labelOverlap": false, "labelFlush": false}},
  "y": {"field": "v", "type": "quantitative", "stack": "zero",
   "scale": {"domain": [0, 250], "nice": false},
   "axis": {"values": [0,50,100,150,200,250], "title": "power [GW]", "titleX": -103, "titleY": 277.5, "titleAngle": -90, "titleAlign": "center", "titleBaseline": "middle"}},
  "color": {"field": "n", "type": "nominal", "legend": {"title": null},
   "scale": {"domain": ["pumped hydro discharger","hydrogen turbine","battery discharger","solar PV","onshore wind","offshore wind","hydroelectricity"],
             "range": ["#dbf6a5","#ff0000","#999999","#ffff00","#3a5f82","#5b82a6","#008000"]}},
  "order": {"field": "o", "type": "quantitative"}
 }
}
]
}
